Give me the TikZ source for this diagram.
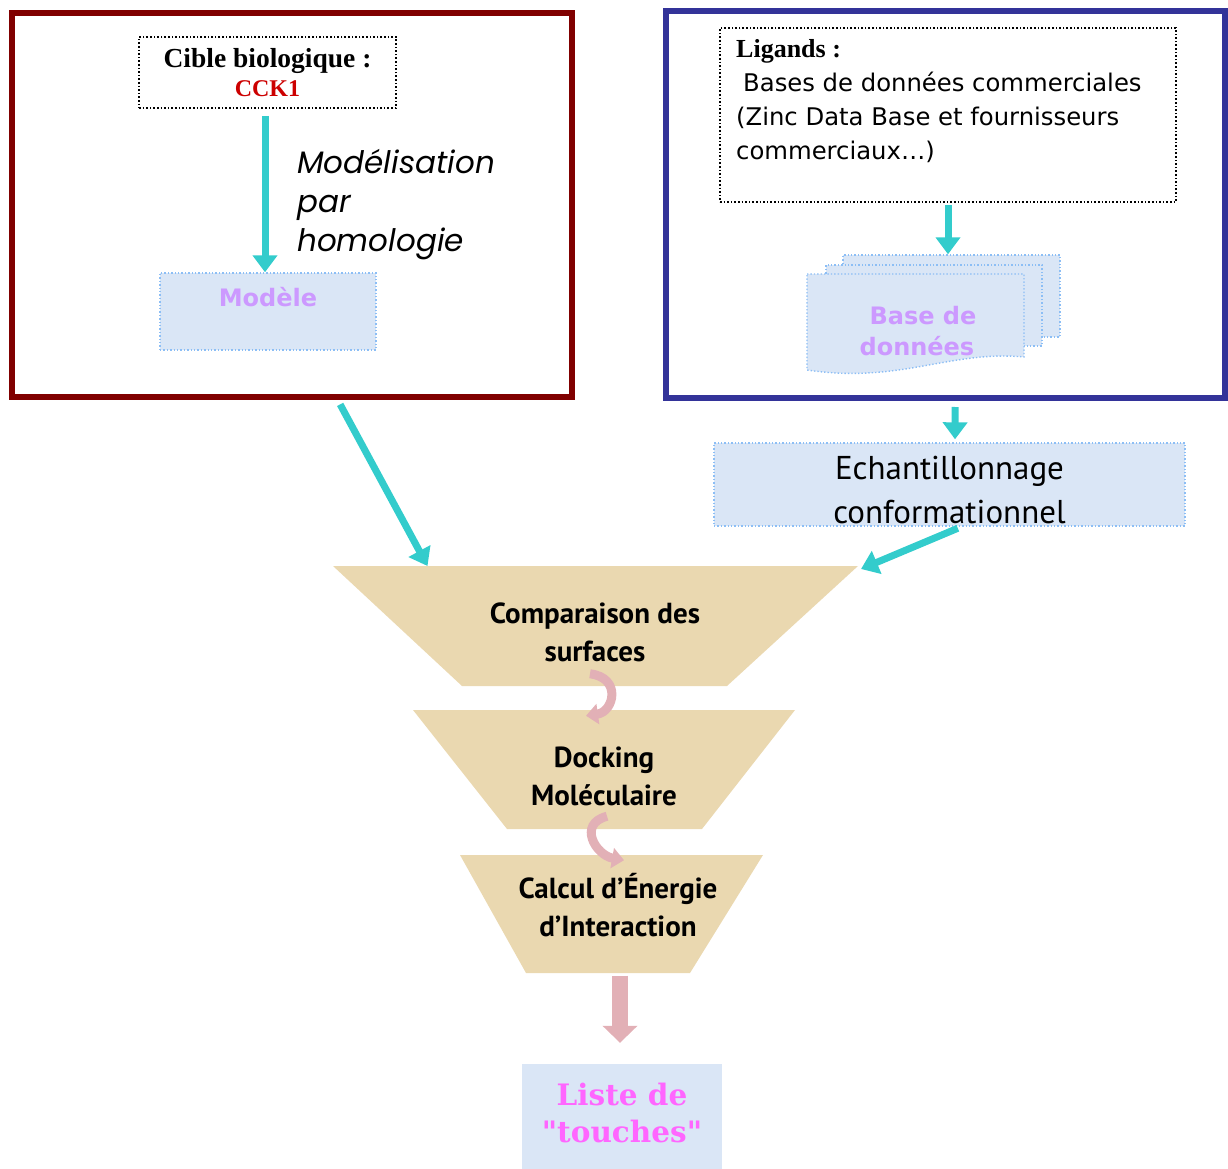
\documentclass[tikz,border=0pt]{standalone}
\usepackage{fontspec}
\setmainfont{Liberation Serif}
\newfontfamily\dvs{DejaVu Sans}
\newfontfamily\dvserif{DejaVu Serif}
\newfontfamily\comic{PT Sans}
\newfontfamily\gothic{Poppins}
\usetikzlibrary{arrows.meta,calc}
\definecolor{frameRed}{RGB}{128,0,0}
\definecolor{frameBlue}{RGB}{51,51,153}
\definecolor{cckRed}{RGB}{204,0,0}
\definecolor{cyanA}{RGB}{51,204,204}
\definecolor{pinkA}{RGB}{226,176,182}
\definecolor{lightblue}{RGB}{218,230,246}
\definecolor{dotblue}{RGB}{140,190,245}
\definecolor{lavender}{RGB}{204,153,255}
\definecolor{magentaT}{RGB}{255,102,255}
\definecolor{tan}{RGB}{234,216,176}
\begin{document}
\begin{tikzpicture}[x=1pt,y=-1pt,
  frame/.style={draw=#1, line width=6pt, inner sep=0pt},
  dotbox/.style={draw=black, line width=1.6pt, dotted, inner sep=0pt},
  bluebox/.style={fill=lightblue, draw=dotblue, line width=1.4pt, dotted, inner sep=0pt},
  cyanarrow/.style={draw=cyanA, line width=7pt, -{Triangle[width=24pt,length=17pt]}},
  pinkarrow/.style={draw=pinkA, line width=9pt, -{Triangle[width=20pt,length=12pt]}},
  bigpink/.style={draw=pinkA, line width=16pt, -{Triangle[width=34pt,length=17pt]}},
  funneltext/.style={font=\comic\bfseries\fontsize{29}{38}\selectfont, align=center, inner sep=0pt},
  lavtext/.style={font=\dvs\bfseries\fontsize{24}{31}\selectfont, text=lavender, align=center, inner sep=0pt}
]
\useasboundingbox (0,0) rectangle (1228,1169);

% frames
\node[frame=frameRed, minimum width=560.5pt, minimum height=383.5pt] (redframe) at (291.75,205.25) {};
\node[frame=frameBlue, minimum width=559.5pt, minimum height=387pt] (blueframe) at (945.25,204.5) {};

% left part
\node[dotbox, minimum width=257pt, minimum height=71pt, align=center,
      font=\bfseries\fontsize{27.5}{29}\selectfont] (cible) at (267.5,72.5)
      {Cible biologique :\\ \textcolor{cckRed}{\fontsize{24}{29}\selectfont CCK1}};
\node[bluebox, minimum width=216pt, minimum height=77pt] (modele) at (268,311.5) {};
\node[lavtext] (modeletext) at ([yshift=14pt]modele.center) {Modèle};
\draw[cyanarrow, shorten <=7pt] ([xshift=-3pt]modele.north |- cible.south) -- ([xshift=-3pt]modele.north);
\node[anchor=west, align=left, inner sep=0pt, font=\gothic\itshape\fontsize{31}{39}\selectfont] (modtext) at (297,205)
  {Modélisation\\par\\homologie};

% right part
\node[dotbox, minimum width=456pt, minimum height=174pt] (ligbox) at (948,115) {};
\node[anchor=north west, align=left, inner sep=0pt, font=\dvs\fontsize{24.3}{34}\selectfont] (ligtext) at (736,39)
  {{\rmfamily\bfseries\fontsize{26}{34}\selectfont Ligands :}\\
   \hspace{7pt}Bases de données commerciales\\
   (Zinc Data Base et fournisseurs\\
   commerciaux…)};

\node[bluebox, minimum width=217pt, minimum height=82pt] (docback) at (951.5,296) {};
\node[bluebox, minimum width=216pt, minimum height=81pt] (docmid) at (934,305.5) {};
\filldraw[fill=lightblue, draw=dotblue, line width=1.4pt, dotted]
  (807,274) -- (1024,274) -- (1024,357) .. controls (950,350) and (900,384) .. (807,370) -- cycle;
\node[lavtext, align=left] (doctext) at (918,331) {\hspace{10pt}Base de\\données};
\draw[cyanarrow, shorten <=2pt] (ligbox.south) -- (docback.north -| ligbox.south);

\node[bluebox, minimum width=471pt, minimum height=83pt] (echant) at (949.5,484.5) {};
\node[align=center, inner sep=0pt, font=\comic\fontsize{33}{44}\selectfont] (echanttext) at ([yshift=-6pt]echant.center)
      {Echantillonnage\\conformationnel};
\draw[cyanarrow, shorten <=6pt, shorten >=3pt] ([xshift=10pt]blueframe.south) -- ([xshift=5.5pt]echant.north);

% funnels
\coordinate (f1tl) at (333,566); \coordinate (f1tr) at (858,566);
\fill[tan] (f1tl) -- (f1tr) -- (727,686) -- (462,686) -- cycle;
\fill[tan] (413,710) -- (795,710) -- (702,829) -- (507,829) -- cycle;
\fill[tan] (460,855) -- (763,855) -- (690,973) -- (526,973) -- cycle;
\node[funneltext] (f1) at (595,632) {Comparaison des\\surfaces};
\node[funneltext] (f2) at (604,776.5) {Docking\\Moléculaire};
\node[funneltext] (f3) at (618,905.5) {Calcul d’Énergie\\d’Interaction};

\draw[cyanarrow, shorten <=5pt] ([xshift=46pt]redframe.south) -- ($(f1tl)!0.18!(f1tr)$);
\draw[cyanarrow, shorten <=4pt] ([xshift=12pt]echant.south) -- ($(f1tr)+(3,3)$);

% pink curved arrows
\draw[pinkarrow] ([xshift=-5pt,yshift=-12pt]f1.south) .. controls +(32,4) and +(28,-4) .. ([xshift=-9pt,yshift=-54pt]f1.south);
\draw[pinkarrow] ([xshift=3pt,yshift=-10pt]f2.south) .. controls +(-30,8) and +(-28,-5) .. ([xshift=20pt,yshift=-54pt]f2.south);

% final
\node[fill=lightblue, minimum width=200pt, minimum height=105pt, inner sep=0pt] (liste) at (622,1116.5) {};
\node[align=center, inner sep=0pt, font=\dvserif\bfseries\fontsize{29.5}{37}\selectfont, text=magentaT] (listetext)
      at ([yshift=4pt]liste.center) {Liste de\\"touches"};
\draw[bigpink] ([xshift=2pt,yshift=-38pt]f3.south) -- ([xshift=-2pt,yshift=21pt]liste.north);
\end{tikzpicture}
\end{document}
